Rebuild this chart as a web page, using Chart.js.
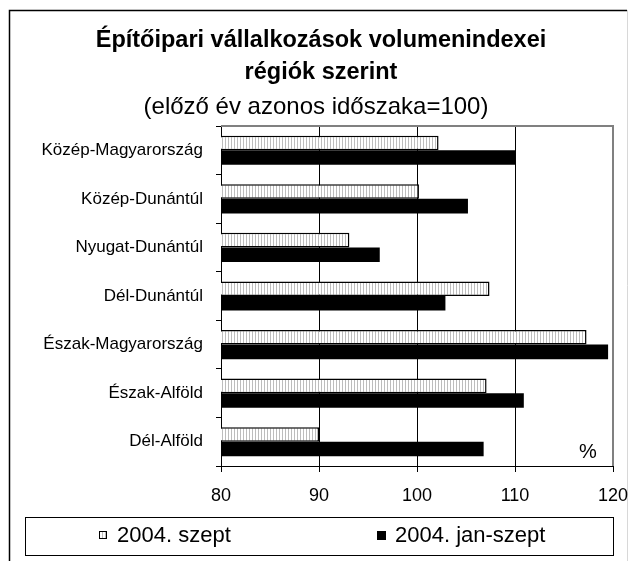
<!DOCTYPE html>
<html>
<head>
<meta charset="utf-8">
<script src="https://cdn.jsdelivr.net/npm/chart.js@4"></script>
<style>
  html, body { margin: 0; padding: 0; background: #fff; }
  #c { display: block; }
</style>
</head>
<body>
<canvas id="c" width="629" height="561"></canvas>
<script>
const categories = ['Közép-Magyarország', 'Közép-Dunántúl', 'Nyugat-Dunántúl', 'Dél-Dunántúl', 'Észak-Magyarország', 'Észak-Alföld', 'Dél-Alföld'];
const seriesNames = ['2004. szept', '2004. jan-szept'];
const szept = [102.2, 100.2, 93.1, 107.4, 117.3, 107.1, 90.0];
const janSzept = [110.1, 105.2, 96.2, 102.9, 119.5, 110.9, 106.8];
const xTicks = [80, 90, 100, 110, 120];
const titleLines = ['Építőipari vállalkozások volumenindexei', 'régiók szerint'];
const subtitle = '(előző év azonos időszaka=100)';
const unitLabel = '%';

const FONT = '"Liberation Sans", Arial, sans-serif';

function makeHatch() {
  const p = document.createElement('canvas');
  p.width = 3; p.height = 3;
  const g = p.getContext('2d');
  g.fillStyle = '#ffffff';
  g.fillRect(0, 0, 3, 3);
  g.fillStyle = '#bdbdbd';
  g.fillRect(0, 0, 1, 3);
  return g.createPattern(p, 'repeat');
}
const ctx0 = document.getElementById('c').getContext('2d');
const hatch = makeHatch();

const decor = {
  id: 'decor',
  beforeDraw(chart) {
    const c = chart.ctx;
    c.save();
    c.fillStyle = '#fff';
    c.fillRect(0, 0, chart.width, chart.height);
    // outer frame
    c.strokeStyle = '#000';
    c.lineWidth = 1.5;
    c.beginPath();
    c.moveTo(9.5, 561);
    c.lineTo(9.5, 10.5);
    c.lineTo(627, 10.5);
    c.stroke();
    c.strokeStyle = '#d8d8d8';
    c.lineWidth = 1;
    c.beginPath();
    c.moveTo(627.5, 10);
    c.lineTo(627.5, 561);
    c.stroke();
    // titles
    c.fillStyle = '#000';
    c.textAlign = 'center';
    c.textBaseline = 'middle';
    c.font = 'bold 23.5px ' + FONT;
    c.fillText(titleLines[0], 321, 41);
    c.fillText(titleLines[1], 321, 73);
    c.font = '24px ' + FONT;
    c.fillText(subtitle, 316, 107);
    c.restore();
  },
  beforeDatasetsDraw(chart) {
    const a = chart.chartArea;
    const c = chart.ctx;
    c.save();
    c.strokeStyle = '#808080';
    c.lineWidth = 2;
    c.beginPath();
    c.moveTo(a.left, a.top);
    c.lineTo(a.right, a.top);
    c.lineTo(a.right, a.bottom);
    c.stroke();
    c.restore();
  },
  afterDraw(chart) {
    const c = chart.ctx;
    c.save();
    c.fillStyle = '#000';
    c.textAlign = 'center';
    c.textBaseline = 'middle';
    c.font = '20px ' + FONT;
    c.fillText(unitLabel, 588, 452);
    // legend box
    c.strokeStyle = '#000';
    c.lineWidth = 1;
    c.strokeRect(25.5, 517.5, 588, 38);
    // marker 1
    c.fillStyle = hatch;
    c.fillRect(99, 531, 8, 8);
    c.strokeRect(99.5, 531.5, 7, 7);
    // marker 2
    c.fillStyle = '#000';
    c.fillRect(377, 531, 9, 9);
    c.font = '22px ' + FONT;
    c.textAlign = 'left';
    c.fillText(seriesNames[0], 117, 536);
    c.fillText(seriesNames[1], 395, 536);
    c.restore();
  }
};

new Chart(ctx0, {
  type: 'bar',
  data: {
    labels: categories,
    datasets: [
      {
        label: seriesNames[0],
        data: szept,
        backgroundColor: hatch,
        borderColor: '#000',
        borderWidth: 1.5,
        borderSkipped: 'start',
        categoryPercentage: 0.6,
        barPercentage: 1.0
      },
      {
        label: seriesNames[1],
        data: janSzept,
        backgroundColor: '#000',
        borderColor: '#000',
        borderWidth: 0,
        categoryPercentage: 0.6,
        barPercentage: 1.0
      }
    ]
  },
  options: {
    indexAxis: 'y',
    responsive: false,
    animation: false,
    devicePixelRatio: 1,
    layout: { padding: { left: 0, top: 126, right: 16, bottom: 45 } },
    plugins: {
      legend: { display: false },
      title: { display: false },
      tooltip: { enabled: false }
    },
    scales: {
      x: {
        type: 'linear',
        min: 80,
        max: 120,
        afterBuildTicks(scale) { scale.ticks = xTicks.map(v => ({ value: v })); },
        afterFit(scale) { scale.height = 50; scale.paddingLeft = 0; scale.paddingRight = 0; },
        grid: {
          color: (ctx) => (ctx.tick && ctx.tick.value === 120) ? '#808080' : '#000',
          lineWidth: 1,
          drawTicks: true,
          tickLength: 6,
          tickColor: '#000'
        },
        border: { display: true, color: '#000', width: 1 },
        ticks: {
          color: '#000',
          font: { family: FONT, size: 18 },
          padding: 13,
          maxRotation: 0
        }
      },
      y: {
        type: 'category',
        afterFit(scale) { scale.width = 221; scale.paddingTop = 0; scale.paddingBottom = 0; },
        grid: {
          drawOnChartArea: false,
          drawTicks: true,
          tickLength: 5,
          color: '#000',
          offset: true
        },
        border: { display: true, color: '#000', width: 1 },
        ticks: {
          color: '#000',
          font: { family: FONT, size: 17 },
          padding: 13
        }
      }
    }
  },
  plugins: [decor]
});
</script>
</body>
</html>
